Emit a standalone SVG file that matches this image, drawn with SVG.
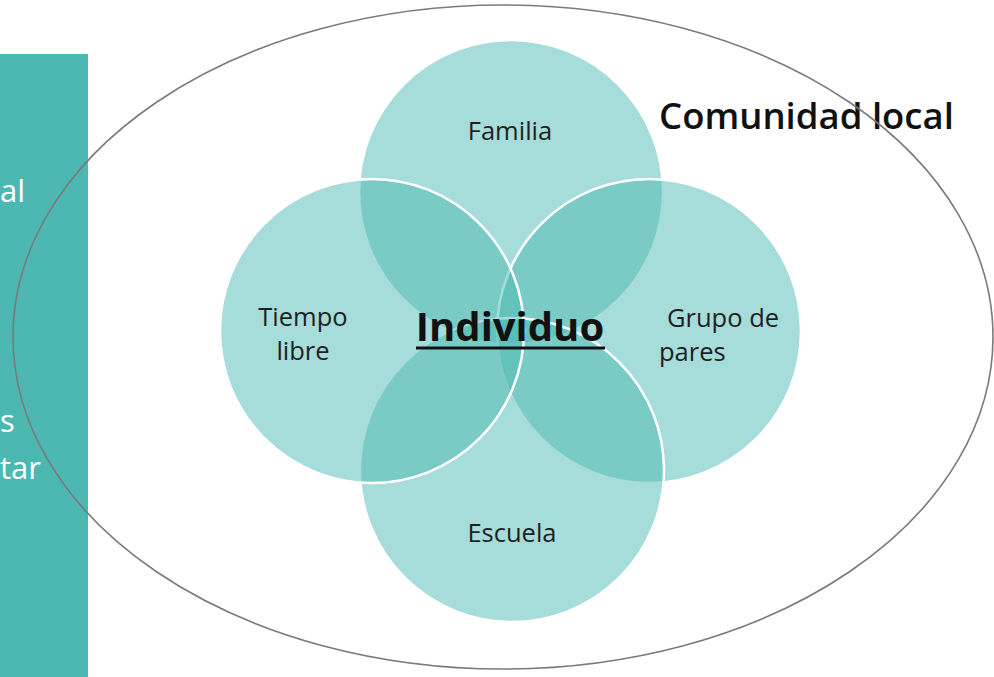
<svg xmlns="http://www.w3.org/2000/svg" width="994" height="677" viewBox="0 0 994 677">
<style>
.c{fill:#4db9b3;fill-opacity:0.5;stroke:#ffffff;stroke-width:2.5}
.t{font-family:"Open Sans","Noto Sans",sans-serif;font-size:25.5px;fill:#1f1f1f}
.w{font-family:"Open Sans","Noto Sans",sans-serif;font-size:31px;fill:#ffffff}
</style>
<rect x="0" y="0" width="994" height="677" fill="#ffffff"/>
<g id="panel">
<rect x="0" y="54" width="88" height="623" fill="#4db8b2"/>
<text class="w" x="0" y="202">al</text>
<text class="w" x="0" y="432">s</text>
<text class="w" x="0" y="479">tar</text>
</g>
<g id="comunidad">
<text x="659" y="129" font-family="'Open Sans','Noto Sans',sans-serif" font-size="36.5" font-weight="600" fill="#111">Comunidad local</text>
<ellipse cx="503" cy="337" rx="490" ry="332" fill="none" stroke="#7a7a7a" stroke-width="1.6"/>
</g>
<g id="familia">
<circle class="c" cx="511" cy="192" r="152"/>
<text class="t" x="510" y="140" text-anchor="middle">Familia</text>
</g>
<g id="grupo">
<circle class="c" cx="649" cy="331" r="152"/>
<text class="t" x="667" y="327">Grupo de</text>
<text class="t" x="659" y="361">pares</text>
</g>
<g id="escuela">
<circle class="c" cx="512" cy="470" r="152"/>
<text class="t" x="512" y="542" text-anchor="middle">Escuela</text>
</g>
<g id="tiempo">
<circle class="c" cx="372" cy="331" r="152"/>
<text class="t" x="303" y="326" text-anchor="middle">Tiempo</text>
<text class="t" x="303" y="360" text-anchor="middle">libre</text>
</g>
<g id="individuo">
<text x="510" y="341" text-anchor="middle" font-family="'Open Sans','Noto Sans',sans-serif" font-size="40" font-weight="bold" fill="#111">Individuo</text>
<line x1="416" y1="348" x2="605" y2="348" stroke="#111" stroke-width="3"/>
</g>
<g id="connectors"></g>
</svg>
